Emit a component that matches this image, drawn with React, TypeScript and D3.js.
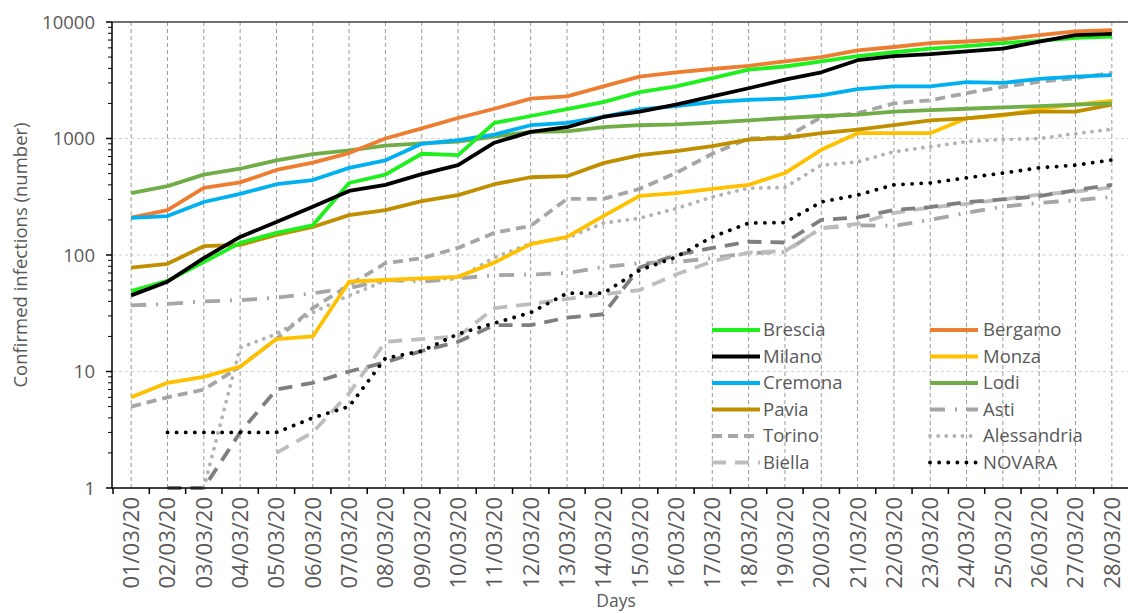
import React from "react";
import * as d3 from "d3";

const days = [
  "01/03/20","02/03/20","03/03/20","04/03/20","05/03/20","06/03/20","07/03/20",
  "08/03/20","09/03/20","10/03/20","11/03/20","12/03/20","13/03/20","14/03/20",
  "15/03/20","16/03/20","17/03/20","18/03/20","19/03/20","20/03/20","21/03/20",
  "22/03/20","23/03/20","24/03/20","25/03/20","26/03/20","27/03/20","28/03/20",
];

const brescia = [49,60,87,127,155,180,415,490,740,720,1360,1560,1790,2050,2500,2800,3300,3900,4150,4600,5100,5500,5900,6200,6600,6900,7300,7500];
const bergamo = [209,243,376,420,537,620,750,1000,1220,1500,1800,2200,2300,2800,3400,3700,3950,4200,4600,5000,5700,6100,6600,6800,7100,7700,8300,8500];
const milano = [45,59,94,143,192,260,355,400,495,590,920,1140,1250,1530,1700,1950,2300,2700,3200,3700,4700,5100,5300,5600,5900,6800,7700,7900];
const monza = [6,8,9,11,19,20,59,61,63,65,86,124,143,216,322,340,370,400,505,800,1110,1110,1110,1490,1570,1800,1950,2100];
const cremona = [208,216,285,335,405,440,560,650,900,970,1080,1300,1360,1530,1780,1900,2050,2150,2200,2350,2650,2800,2800,3050,3000,3250,3400,3500];
const lodi = [340,390,490,550,650,735,790,870,910,940,1040,1140,1150,1250,1300,1320,1370,1430,1500,1560,1600,1700,1750,1800,1850,1900,1950,2000];
const pavia = [78,84,119,122,149,174,220,243,290,327,405,465,475,615,720,780,860,980,1010,1110,1190,1300,1430,1490,1600,1700,1700,1950];
const asti = [37,38,40,41,43,47,52,61,59,63,67,68,70,79,85,87,94,104,106,170,180,178,200,230,260,280,295,315];
const torino = [5,6,7,11,19,35,55,85,94,115,155,178,303,303,370,505,740,1000,1020,1520,1650,2000,2130,2450,2780,3060,3300,3650];
const alessandria = [null,null,1,16,21,32,45,60,62,63,95,126,140,188,207,250,315,375,380,590,630,770,850,940,980,1000,1100,1200];
const biella = [null,null,null,null,2,3,6.5,18,19,20,35,38,42,46,50,68,88,105,108,170,185,230,255,275,300,330,350,380];
const novara = [null,3,3,3,3,4,5,13,15,21,26,32,47,47,74,96,143,188,190,285,327,400,415,460,505,560,590,655];
const unlabelled = [null,1,1,3,7,8,10,12,15,18,25,25,29,31,78,100,115,130,128,200,210,243,258,285,300,320,360,400];

const yTicks = [1, 10, 100, 1000, 10000];

type S = { name: string; values: (number | null)[]; color: string; width: number; dash?: string; cap?: string };

const series: S[] = [
  { name: "Asti", values: asti, color: "#A6A6A6", width: 3.8, dash: "15,10,2,10" },
  { name: "Biella", values: biella, color: "#BDBDBD", width: 3.8, dash: "14,9" },
  { name: "", values: unlabelled, color: "#7F7F7F", width: 3.8, dash: "14,9" },
  { name: "Alessandria", values: alessandria, color: "#B3B3B3", width: 3.8, dash: "0.1,8", cap: "round" },
  { name: "NOVARA", values: novara, color: "#000000", width: 3.8, dash: "0.1,9", cap: "round" },
  { name: "Torino", values: torino, color: "#A6A6A6", width: 3.8, dash: "10,6" },
  { name: "Monza", values: monza, color: "#FFC000", width: 3.8 },
  { name: "Pavia", values: pavia, color: "#BF8F00", width: 3.8 },
  { name: "Lodi", values: lodi, color: "#70AD47", width: 3.8 },
  { name: "Bergamo", values: bergamo, color: "#ED7D31", width: 3.8 },
  { name: "Cremona", values: cremona, color: "#00B0F0", width: 3.8 },
  { name: "Brescia", values: brescia, color: "#1EF01E", width: 3.8 },
  { name: "Milano", values: milano, color: "#000000", width: 3.8 },
];

const legendCol1 = ["Brescia", "Milano", "Cremona", "Pavia", "Torino", "Biella"];
const legendCol2 = ["Bergamo", "Monza", "Lodi", "Asti", "Alessandria", "NOVARA"];

const FONT = "'Open Sans', sans-serif";
const TXT = "#595959";

export default function App() {
  const W = 1128, H = 613;
  const left = 113, right = 1130, top = 22, bottom = 488;
  const x = d3.scaleBand<string>().domain(days).range([left, right]).padding(0);
  const cx = (d: string) => (x(d) as number) + x.bandwidth() / 2;
  const y = d3.scaleLog().domain([1, 10000]).range([bottom, top]);

  const line = d3
    .line<[string, number | null]>()
    .defined((d) => d[1] != null)
    .x((d) => cx(d[0]))
    .y((d) => y(d[1] as number));

  const minor: number[] = [];
  for (let e = 0; e < 4; e++) for (let k = 2; k <= 9; k++) minor.push(k * Math.pow(10, e));

  const byName = (n: string) => series.find((s) => s.name === n)!;
  const rowY = (i: number) => 330 + i * 26.5;

  const legendItem = (n: string, i: number, lx: number, tx: number) => {
    const s = byName(n);
    const yy = rowY(i);
    return (
      <g key={n}>
        <line x1={lx} x2={lx + 48} y1={yy} y2={yy} stroke={s.color} strokeWidth={s.width}
          strokeDasharray={s.dash} strokeLinecap={(s.cap as any) || "butt"} />
        <text x={tx} y={yy} dy="0.35em" fontSize={18.5} fill={TXT} fontFamily={FONT}>{n}</text>
      </g>
    );
  };

  return (
    <svg width={W} height={H} style={{ position: "absolute", left: 0, top: 0, background: "#fff" }}>
      <rect x={0} y={0} width={W} height={H} fill="#fff" />
      {[10, 100, 1000].map((t) => (
        <line key={t} x1={left} x2={W} y1={y(t)} y2={y(t)} stroke="#CFCFCF" strokeWidth={1} strokeDasharray="3,3" />
      ))}
      {days.map((d) => (
        <line key={d} x1={cx(d)} x2={cx(d)} y1={top} y2={bottom} stroke="#9A9A9A" strokeWidth={1} strokeDasharray="4,3" />
      ))}
      <line x1={left - 1} x2={W} y1={top} y2={top} stroke="#404040" strokeWidth={1.5} />
      {series.map((s, i) => (
        <path key={i} d={line(days.map((d, j) => [d, s.values[j]] as [string, number | null])) || ""}
          fill="none" stroke={s.color} strokeWidth={s.width} strokeDasharray={s.dash}
          strokeLinecap={(s.cap as any) || "butt"} strokeLinejoin="round" />
      ))}
      <line x1={left - 1} x2={left - 1} y1={top} y2={bottom} stroke="#000" strokeWidth={1.5} />
      {yTicks.map((t) => (
        <g key={t}>
          <line x1={left - 7} x2={left - 1} y1={y(t)} y2={y(t)} stroke="#000" strokeWidth={1.5} />
          <text x={left - 18} y={y(t)} dy="0.36em" textAnchor="end" fontSize={18.5} fill={TXT} fontFamily={FONT}>{t}</text>
        </g>
      ))}
      {minor.map((t) => (
        <line key={"m" + t} x1={left - 5} x2={left - 1} y1={y(t)} y2={y(t)} stroke="#000" strokeWidth={1} />
      ))}
      <line x1={left - 1} x2={W} y1={bottom} y2={bottom} stroke="#000" strokeWidth={1.5} />
      {days.map((d) => (
        <line key={"t" + d} x1={x(d) as number} x2={x(d) as number} y1={bottom} y2={bottom + 6} stroke="#000" strokeWidth={1.5} />
      ))}
      {days.map((d) => (
        <text key={"l" + d} transform={`translate(${cx(d)},${bottom + 9}) rotate(-90)`} textAnchor="end" dy="0.36em"
          fontSize={22} fill={TXT} fontFamily={FONT}>{d}</text>
      ))}
      <text transform={`translate(20,${(top + bottom) / 2}) rotate(-90)`} textAnchor="middle" dy="0.36em"
        fontSize={18.5} fill={TXT} fontFamily={FONT}>Confirmed infections (number)</text>
      <text x={616} y={601} dy="0.36em" textAnchor="middle" fontSize={17.5} fill={TXT} fontFamily={FONT}>Days</text>
      {legendCol1.map((n, i) => legendItem(n, i, 712, 763))}
      {legendCol2.map((n, i) => legendItem(n, i, 930, 983))}
    </svg>
  );
}
